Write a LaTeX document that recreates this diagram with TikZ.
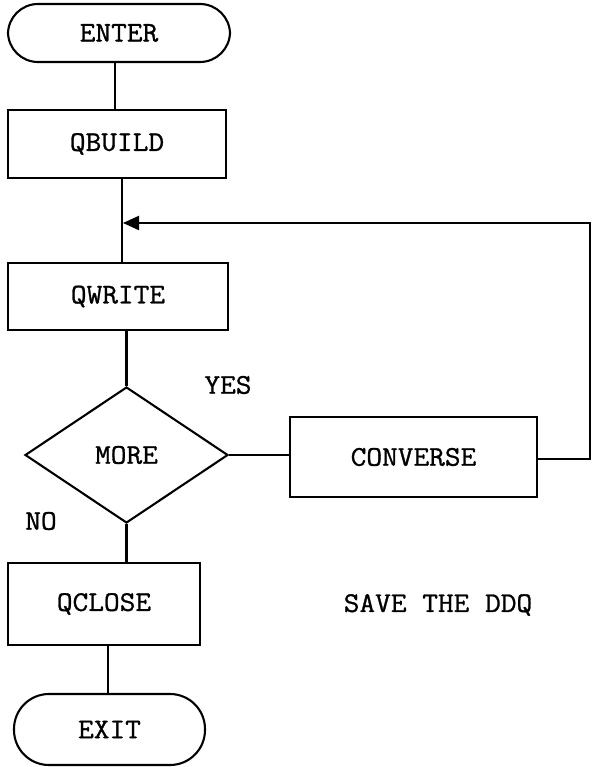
\documentclass[tikz,border=0pt]{standalone}
\usepackage{fontspec}
\setmonofont[FakeStretch=1.07,FakeBold=1]{Latin Modern Mono}
\usetikzlibrary{shapes.geometric,arrows.meta}
\tikzset{
  txt/.style={font=\ttfamily\fontsize{28.5}{31}\selectfont},
  base/.style={draw, line width=2.1pt, txt, inner sep=0pt},
  terminal/.style={base, rectangle, rounded corners=30pt},
  procbox/.style={base, rectangle},
  decision/.style={base, diamond, aspect=1.5},
  link/.style={line width=2.1pt},
  label/.style={txt, inner sep=0pt}
}
\begin{document}
\begin{tikzpicture}[x=1pt,y=-1pt]
\useasboundingbox (0,0) rectangle (591,767);
% main column
\node[terminal, minimum width=222pt, minimum height=58pt] (enter) at (119,33) {ENTER};
\node[procbox, minimum width=218pt, minimum height=68pt] (qbuild) at (117,144) {QBUILD};
\node[procbox, minimum width=220pt, minimum height=67pt] (qwrite) at (118,296.5) {QWRITE};
\node[decision, minimum width=203pt, minimum height=136pt] (more) at (126.5,455) {MORE};
\node[procbox, minimum width=247pt, minimum height=80pt] (converse) at (413.5,457) {CONVERSE};
\node[procbox, minimum width=192pt, minimum height=82pt] (qclose) at (104,604) {QCLOSE};
\node[terminal, rounded corners=35pt, minimum width=191pt, minimum height=71pt] (exit) at (109.5,729.5) {EXIT};
% branch labels and note
\node[label] (yes) at (228,385) {YES};
\node[label] (no) at (41,521) {NO};
\node[label] (save) at (438,605) {SAVE THE DDQ};

\coordinate (merge) at (123,223);
\coordinate (rtop) at (590,223);
\coordinate (rbot) at (590,459);

\draw[link] (enter.south -| 115,0) -- (qbuild.north -| 115,0);
\draw[link] (qbuild.south -| 122,0) -- (qwrite.north -| 122,0);
\draw[link] (qwrite.south -| more.north) -- (more.north);
\draw[link] (more.east) -- (more.east -| converse.west);
\draw[link, -{Triangle[length=16pt,width=14pt]}]
  (converse.east |- rbot) -- (rbot) -- (rtop) -- (merge);
\draw[link] (more.south) -- (more.south |- qclose.north);
\draw[link] (qclose.south -| 108,0) -- (exit.north -| 108,0);
\end{tikzpicture}
\end{document}
